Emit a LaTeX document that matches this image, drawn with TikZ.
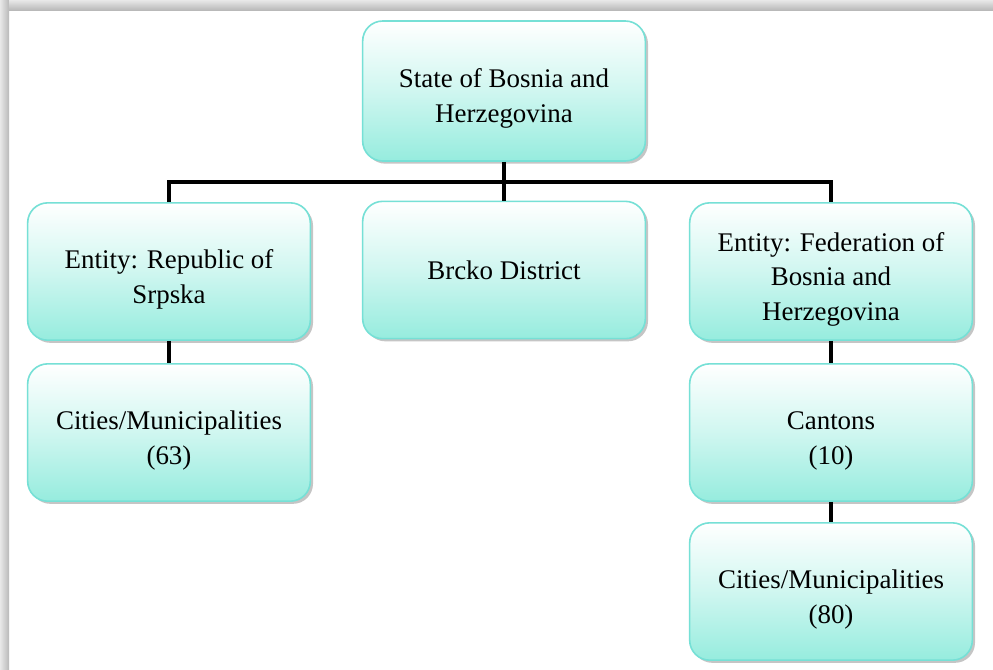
\documentclass[tikz,border=0pt]{standalone}
\usepackage{fontspec}
\setmainfont{Liberation Serif}
\usetikzlibrary{shadows,calc}
\definecolor{boxline}{RGB}{118,224,214}
\definecolor{boxbot}{RGB}{150,236,222}
\newcommand\firstln{\rule{0pt}{26pt}}
\tikzset{
  orgbox/.style={draw=boxline, line width=1.2pt, rounded corners=15pt,
    top color=white, bottom color=boxbot, middle color=boxbot!45,
    minimum width=212pt, minimum height=103pt, align=center,
    inner sep=4pt,
    font=\fontsize{20.2pt}{26.2pt}\selectfont,
    drop shadow={shadow xshift=2pt, shadow yshift=-2pt, opacity=0.45, fill=gray}},
  link/.style={line width=2.3pt, black}
}
\begin{document}
\begin{tikzpicture}[x=0.75pt,y=-0.75pt]
\useasboundingbox (0,0) rectangle (993,669);
\fill[white] (0,0) rectangle (993,669);
\shade[left color=gray!18, right color=gray!55] (0,0) rectangle (9,669);
\shade[top color=gray!18, bottom color=gray!55] (9,0) rectangle (993,10);

\node[orgbox, minimum height=105pt] (top) at (504,91) {\firstln State of Bosnia and\\Herzegovina};
\node[orgbox] (l2) at (169,271.5) {\firstln Entity: Republic of\\Srpska};
\node[orgbox] (m2) at (504,270) {Brcko District};
\node[orgbox] (r2) at (831,271.5) {\firstln Entity: Federation of\\Bosnia and\\Herzegovina};
\node[orgbox] (l3) at (169,432.5) {\firstln Cities/Municipalities\\(63)};
\node[orgbox] (r3) at (831,432.5) {\firstln Cantons\\(10)};
\node[orgbox] (r4) at (831,591.5) {\firstln Cities/Municipalities\\(80)};

\coordinate (bar) at (504,182);
\draw[link] (top.south) -- (m2.north);
\draw[link] (l2.north) |- (bar) -| (r2.north);
\draw[link] (l2.south) -- (l3.north);
\draw[link] (r2.south) -- (r3.north);
\draw[link] (r3.south) -- (r4.north);
\end{tikzpicture}
\end{document}
